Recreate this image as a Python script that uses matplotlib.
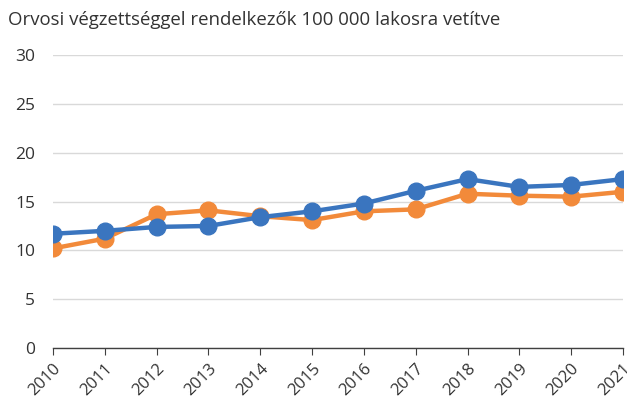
import matplotlib.pyplot as plt

years = [2010, 2011, 2012, 2013, 2014, 2015, 2016, 2017, 2018, 2019, 2020, 2021]
blue_values = [11.7, 12.0, 12.4, 12.5, 13.4, 14.0, 14.8, 16.1, 17.3, 16.5, 16.7, 17.3]
orange_values = [10.2, 11.2, 13.7, 14.1, 13.5, 13.1, 14.0, 14.2, 15.8, 15.6, 15.5, 16.0]
y_ticks = [0, 5, 10, 15, 20, 25, 30]

BLUE = "#3A75BF"
ORANGE = "#F28A3A"

plt.rcParams["font.family"] = ["Open Sans", "DejaVu Sans"]

fig = plt.figure(figsize=(6.27, 4.05), dpi=100)
ax = fig.add_axes([0.0845, 0.1407, 0.9091, 0.7233])

ax.plot(years, orange_values, color=ORANGE, linewidth=3.2, marker="o",
        markersize=12, zorder=3, solid_capstyle="round")
ax.plot(years, blue_values, color=BLUE, linewidth=3.2, marker="o",
        markersize=12, zorder=4, solid_capstyle="round")

ax.set_xlim(years[0], years[-1])
ax.set_ylim(0, 30)
ax.set_yticks(y_ticks)
ax.set_xticks(years)
ax.set_xticklabels([str(y) for y in years], rotation=45, ha="right",
                   rotation_mode="anchor", fontsize=12, color="#333333")
ax.tick_params(axis="y", length=0, pad=13, labelsize=12.5, labelcolor="#333333")
ax.tick_params(axis="x", length=5, color="#404040", pad=4)

ax.grid(axis="y", color="#D9D9D9", linewidth=1)
ax.set_axisbelow(True)
for side in ["top", "right", "left"]:
    ax.spines[side].set_visible(False)
ax.spines["bottom"].set_color("#404040")
ax.spines["bottom"].set_linewidth(1)

fig.text(0.013, 0.95, "Orvosi végzettséggel rendelkezők 100 000 lakosra vetítve",
         fontsize=13.4, color="#333333", ha="left", va="center")

fig.savefig("out.png", dpi=100)
